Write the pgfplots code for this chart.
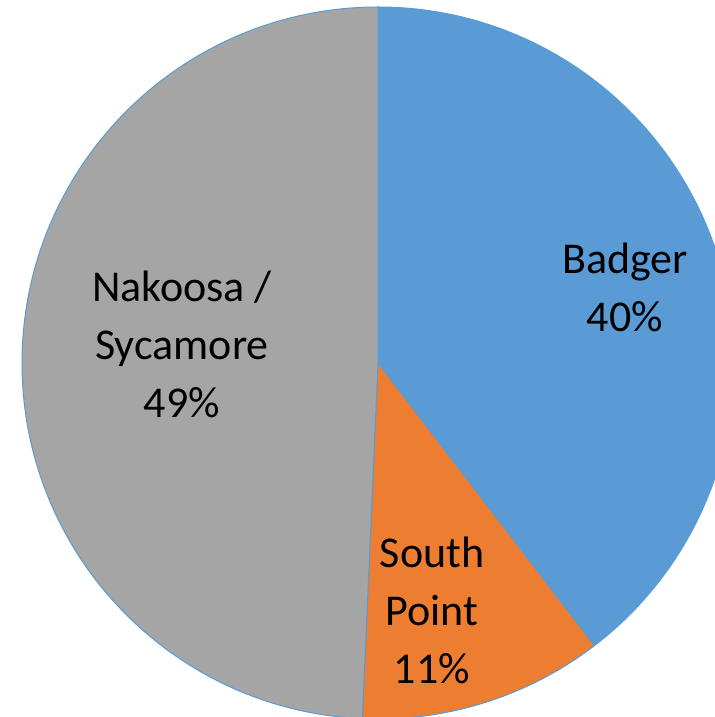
\documentclass[border=0pt]{standalone}
\usepackage{pgfplots}
\usepackage{pgfplotstable}
\pgfplotsset{compat=1.18}
\usepackage{fontspec}
\setmainfont{Carlito}

\definecolor{slice0}{HTML}{5B9BD5}
\definecolor{slice1}{HTML}{ED7D31}
\definecolor{slice2}{HTML}{A5A5A5}
\definecolor{pieedge}{HTML}{5B9BD5}

% share in percent, clockwise from 12 o'clock
\pgfplotstableread{
value
39.6
11.1
49.3
}\piedata

\begin{document}
\begin{tikzpicture}
\begin{axis}[
    x=0.5pt, y=0.5pt,
    xmin=-378, xmax=337,
    ymin=-354, ymax=363,
    hide axis,
    clip=true,
    font=\fontsize{22}{29}\selectfont,
]
\pgfmathsetmacro\start{90}
\pgfplotsforeachungrouped \i in {0,1,2}{
    \pgfplotstablegetelem{\i}{value}\of\piedata
    \pgfmathsetmacro\stop{\start-3.6*\pgfplotsretval}
    \edef\slice{\noexpand\fill[slice\i, draw=pieedge, line width=0.5pt]
        (axis cs:0,0) -- (axis cs:{356*cos(\start)},{356*sin(\start)})
        arc[start angle=\start, end angle=\stop, radius=178pt] -- cycle;}
    \slice
    \let\start\stop
}
\node[align=center] at (axis cs:247,76) {Badger\\40\%};
\node[align=center] at (axis cs:54,-247) {South\\Point\\11\%};
\node[align=center] at (axis cs:-196,19) {Nakoosa /\\Sycamore\\49\%};
\end{axis}
% the pie runs past the axis box (it is cropped): keep the page to the box
\pgfresetboundingbox
\path[use as bounding box] (current axis.south west) rectangle (current axis.north east);
\end{tikzpicture}
\end{document}
